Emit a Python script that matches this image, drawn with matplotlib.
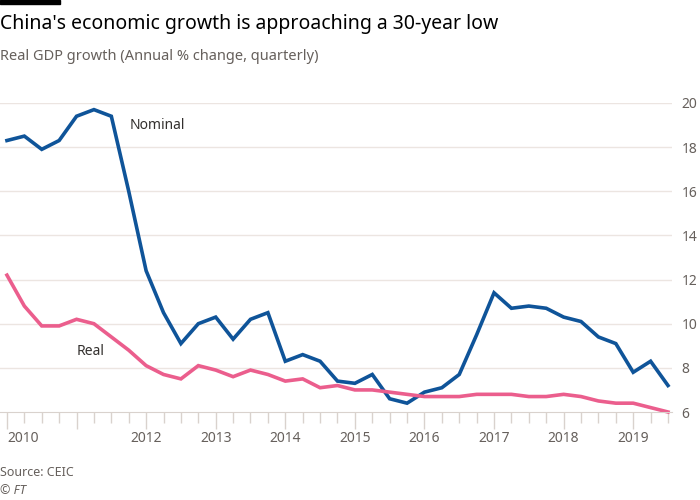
import numpy as np
import matplotlib.pyplot as plt
from matplotlib.patches import Rectangle

# quarterly, 2010 Q1 .. 2019 Q3
nominal = [18.3, 18.5, 17.9, 18.3,
           19.4, 19.7, 19.4, 16.0,
           12.4, 10.5, 9.1, 10.0,
           10.3, 9.3, 10.2, 10.5,
           8.3, 8.6, 8.3, 7.4,
           7.3, 7.7, 6.6, 6.4,
           6.9, 7.1, 7.7, 9.5,
           11.4, 10.7, 10.8, 10.7,
           10.3, 10.1, 9.4, 9.1,
           7.8, 8.3, 7.2]
real = [12.2, 10.8, 9.9, 9.9,
        10.2, 10.0, 9.4, 8.8,
        8.1, 7.7, 7.5, 8.1,
        7.9, 7.6, 7.9, 7.7,
        7.4, 7.5, 7.1, 7.2,
        7.0, 7.0, 6.9, 6.8,
        6.7, 6.7, 6.7, 6.8,
        6.8, 6.8, 6.7, 6.7,
        6.8, 6.7, 6.5, 6.4,
        6.4, 6.2, 6.0]
years = [2010, 2011, 2012, 2013, 2014, 2015, 2016, 2017, 2018, 2019]
year_labels = ["2010", "", "2012", "2013", "2014", "2015", "2016", "2017", "2018", "2019"]
yticks = [6, 8, 10, 12, 14, 16, 18, 20]

plt.rcParams['font.family'] = ['Noto Sans', 'DejaVu Sans']

x = np.arange(len(nominal))
grid_c = "#ece5e1"
text_c = "#66605c"

fig = plt.figure(figsize=(7, 5), dpi=100)
ax = fig.add_axes([0, 88 / 500, 672 / 700, 309 / 500])

ax.plot(x, nominal, color="#0f5499", lw=2.6, clip_on=False, solid_joinstyle="miter")
ax.plot(x, real, color="#eb5e8d", lw=2.6, clip_on=False, solid_joinstyle="miter")

ax.set_xlim(-0.4, 38.23)
ax.set_ylim(6, 20)

ax.set_yticks(yticks)
ax.yaxis.tick_right()
ax.tick_params(axis="y", length=0, pad=7, labelsize=10, labelcolor=text_c)
for v in yticks[1:]:
    ax.axhline(v, color=grid_c, lw=1, zorder=0)

year_pos = [(y - 2010) * 4 for y in years]
ax.set_xticks(year_pos)
ax.set_xticklabels(year_labels)
ax.set_xticks(x, minor=True)
ax.tick_params(axis="x", which="major", length=12, color="#d9d2cd", width=1,
               labelsize=10, labelcolor=text_c, pad=2)
ax.tick_params(axis="x", which="minor", length=8, color="#d9d2cd", width=1)
ax.get_xticklabels()[0].set_horizontalalignment("left")

for s in ["top", "left", "right"]:
    ax.spines[s].set_visible(False)
ax.spines["bottom"].set_color("#d9d2cd")

ax.text(7.05, 18.96, "Nominal", fontsize=10, color="#33302e", va="center")
ax.text(4.0, 8.76, "Real", fontsize=10, color="#33302e", va="center")

fig.patches.append(Rectangle((0, 496 / 500), 60 / 700, 4 / 500, transform=fig.transFigure,
                             color="#000000"))
fig.text(0, 1 - 24 / 500, "China's economic growth is approaching a 30-year low",
         fontsize=14, color="#000000", va="center")
fig.text(0, 1 - 57 / 500, "Real GDP growth (Annual % change, quarterly)",
         fontsize=10.5, color=text_c, va="center")
fig.text(0, 1 - 473 / 500, "Source: CEIC", fontsize=9, color=text_c, va="center")
fig.text(0, 1 - 491 / 500, "© FT", fontsize=9, color=text_c, va="center", style="italic")

fig.savefig("out.png", dpi=100, facecolor="white")
